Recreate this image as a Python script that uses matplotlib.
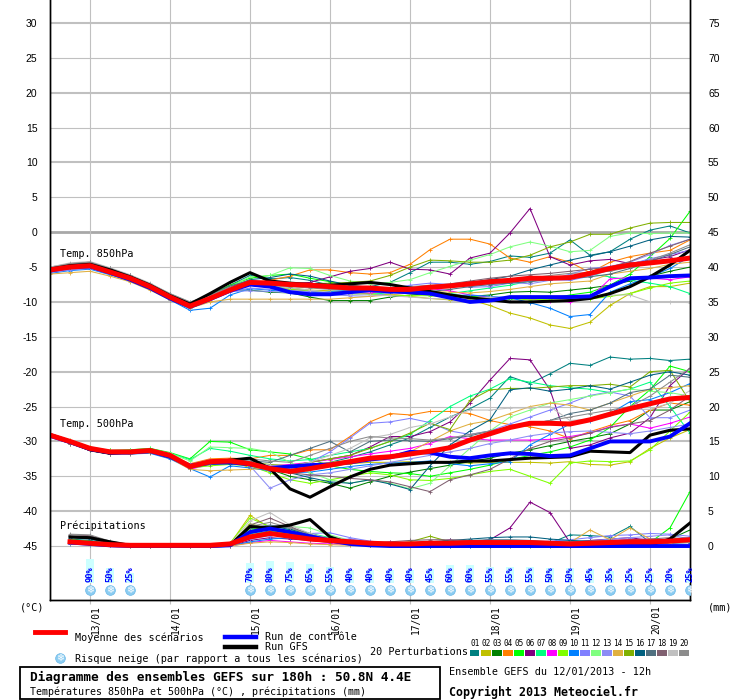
import numpy as np
import matplotlib
matplotlib.use('Agg')
import matplotlib.pyplot as plt
from matplotlib.lines import Line2D
from matplotlib.patches import Rectangle
from matplotlib.transforms import ScaledTranslation

nan = np.nan

# 6-hourly steps from 12/01 12h
steps = np.arange(33)
day_pos = [2, 6, 10, 14, 18, 22, 26, 30]
day_labels = ['13/01', '14/01', '15/01', '16/01', '17/01', '18/01', '19/01', '20/01']

member_colors = ['#008080', '#c0c000', '#008000', '#ff8000', '#00ff00', '#800080', '#00ff80',
                 '#ff00ff', '#80ff00', '#0080ff', '#8080ff', '#80ff80', '#8c8cf5', '#e0b040',
                 '#80b000', '#006080', '#507080', '#806070', '#c0c0c0', '#8c8c8c']

# ---- 850 hPa ----
t850_mean = [-5.4, -5.0, -4.8, -5.7, -6.6, -7.8, -9.3, -10.6, -9.5, -8.3,
             -7.2, -7.3, -7.5, -7.6, -7.8, -8.0, -8.0, -8.2, -8.2, -7.9,
             -7.7, -7.4, -7.1, -6.9, -6.6, -6.6, -6.5, -5.9, -5.2, -4.7,
             -4.4, -4.1, -3.7]
t850_ctrl = [-5.5, -5.0, -4.9, -5.8, -6.8, -8.0, -9.5, -10.7, -9.6, -8.4,
             -7.5, -7.8, -8.6, -8.9, -8.9, -8.6, -8.3, -8.5, -8.6, -8.8,
             -9.4, -10.0, -9.8, -9.3, -9.3, -9.3, -9.3, -9.2, -7.8, -6.6,
             -6.5, -6.3, -6.2]
t850_gfs = [-5.3, -4.8, -4.6, -5.4, -6.4, -7.6, -9.1, -10.3, -8.8, -7.2,
            -5.8, -7.0, -7.3, -7.5, -7.6, -7.4, -7.2, -7.5, -8.0, -8.5,
            -9.0, -9.4, -9.7, -10.0, -10.0, -9.9, -9.8, -9.5, -8.8, -7.8,
            -6.4, -4.7, -2.6]
t850_members = [
    [-5.2, -4.7, -4.5, -5.4, -6.4, -7.6, -9.1, -10.3, -9.2, -7.6, -6.2, -6.7, -6.5, -6.9, -7.6, -7.9, -7.8,
     -7.2, -5.8, -4.3, -4.3, -4.6, -4.2, -3.4, -3.6, -3.0, -1.1, -3.3, -2.8, -1.0, 0.3, 0.9, -0.1],
    [-5.6, -5.2, -5.0, -5.9, -6.8, -8.0, -9.5, -10.6, -9.6, -8.4, -7.6, -7.9, -8.0, -8.3, -8.4, -8.6, -8.8,
     -9.0, -9.2, -9.5, -9.7, -9.7, -10.5, -11.6, -12.3, -13.3, -13.8, -12.9, -10.5, -8.8, -7.8, -7.8, -7.3],
    [-5.5, -5.1, -4.9, -5.8, -6.7, -7.9, -9.4, -10.5, -9.4, -8.3, -8.3, -8.6, -8.7, -9.3, -9.8, -9.8, -9.8,
     -9.3, -9.0, -8.8, -8.9, -9.2, -9.0, -8.6, -8.5, -8.6, -8.3, -8.0, -7.6, -7.0, -6.3, -5.6, -5.0],
    [-5.5, -5.1, -4.9, -5.8, -6.8, -8.0, -9.6, -10.8, -9.8, -8.2, -7.2, -6.9, -6.3, -5.4, -5.4, -5.8, -6.0,
     -5.8, -4.6, -2.5, -1.0, -1.0, -1.7, -3.7, -4.3, -3.5, -4.3, -5.8, -4.3, -3.5, -3.0, -2.6, -1.1],
    [-5.3, -4.8, -4.6, -5.5, -6.5, -7.7, -9.2, -10.4, -9.0, -7.6, -6.6, -6.2, -6.0, -6.6, -7.1, -7.6, -8.0,
     -8.4, -8.6, -8.8, -9.0, -9.2, -9.3, -9.6, -9.4, -9.5, -9.0, -8.6, -7.6, -6.0, -3.5, -0.9, 3.0],
    [-5.4, -5.0, -4.8, -5.7, -6.7, -7.9, -9.4, -10.5, -9.4, -8.1, -7.6, -7.6, -7.4, -7.2, -6.4, -5.6, -5.2,
     -4.3, -5.3, -5.4, -6.0, -3.7, -3.0, -0.1, 3.4, -3.5, -4.7, -4.1, -3.9, -4.5, -4.0, -3.5, -2.5],
    [-5.4, -4.9, -4.7, -5.6, -6.5, -7.7, -9.2, -10.4, -9.3, -8.1, -7.4, -7.7, -8.0, -8.4, -8.6, -8.8, -8.9,
     -8.7, -8.5, -8.6, -8.8, -8.4, -8.0, -7.6, -7.0, -6.5, -6.3, -6.0, -6.4, -6.9, -7.3, -7.8, -8.8],
    [-5.5, -5.1, -4.9, -5.8, -6.7, -7.9, -9.4, -10.6, -9.5, -8.2, -7.5, -7.9, -8.2, -8.4, -8.6, -8.8, -8.7,
     -8.4, -8.1, -8.1, -8.4, -9.0, -9.3, -9.5, -9.6, -9.8, -10.0, -9.4, -6.7, -6.5, -6.6, -6.8, -6.4],
    [-5.6, -5.2, -5.0, -5.9, -6.8, -8.0, -9.5, -10.7, -9.6, -8.4, -7.6, -7.9, -8.2, -8.4, -8.6, -8.8, -8.9,
     -9.0, -9.1, -9.1, -9.3, -9.5, -9.5, -9.5, -9.7, -9.6, -9.5, -9.6, -9.2, -8.8, -8.0, -7.3, -7.0],
    [-5.9, -5.5, -5.3, -6.1, -7.0, -8.2, -9.7, -11.2, -10.9, -9.0, -8.1, -8.3, -8.6, -8.7, -8.5, -8.3, -8.3,
     -8.5, -8.6, -8.9, -9.1, -9.0, -9.2, -9.4, -10.1, -10.9, -12.1, -11.8, -8.6, -7.4, -6.4, -5.2, -3.5],
    [-5.8, -5.4, -5.2, -6.0, -6.9, -8.1, -9.6, -10.8, -9.7, -8.6, -8.0, -8.2, -8.4, -8.5, -8.7, -8.8, -8.5,
     -8.1, -7.6, -7.3, -7.5, -7.9, -7.8, -7.3, -7.0, -6.8, -6.9, -6.3, -5.4, -4.6, -3.8, -3.2, -2.6],
    [-5.3, -4.8, -4.6, -5.5, -6.4, -7.6, -9.0, -10.2, -9.1, -7.8, -6.4, -6.2, -5.1, -5.2, -6.2, -7.0, -7.4,
     -7.2, -6.8, -5.8, -4.9, -4.0, -3.2, -2.1, -1.4, -2.0, -2.8, -2.6, -0.6, -0.1, -0.2, -0.1, -0.1],
    [-5.7, -5.3, -5.1, -5.9, -6.8, -8.0, -9.5, -10.7, -9.6, -8.5, -8.4, -8.5, -8.7, -8.9, -9.0, -9.1, -9.2,
     -8.7, -8.3, -7.9, -7.6, -7.7, -7.5, -7.2, -7.4, -6.9, -6.0, -5.2, -4.9, -4.3, -3.2, -1.9, -1.0],
    [-6.0, -5.8, -5.6, -6.3, -7.1, -8.3, -9.7, -10.9, -10.0, -9.6, -9.6, -9.6, -9.6, -9.6, -9.6, -9.4, -9.2,
     -9.0, -8.7, -8.5, -8.6, -8.7, -8.5, -8.2, -7.8, -7.4, -7.2, -7.0, -6.0, -5.6, -5.2, -4.6, -4.3],
    [-5.5, -5.0, -4.8, -5.7, -6.6, -7.8, -9.3, -10.5, -9.4, -8.2, -7.2, -7.1, -7.3, -7.4, -7.3, -7.2, -7.0,
     -6.2, -5.0, -4.0, -4.1, -4.3, -4.3, -4.0, -3.3, -2.1, -1.4, -0.3, -0.3, 0.6, 1.3, 1.4, 1.4],
    [-5.4, -5.0, -4.8, -5.7, -6.6, -7.8, -9.3, -10.5, -9.3, -7.9, -6.8, -6.5, -6.0, -6.3, -7.0, -7.6, -7.9,
     -8.0, -8.2, -8.0, -7.6, -7.2, -6.8, -6.3, -5.4, -4.7, -4.0, -3.4, -2.8, -2.0, -1.1, -0.6, -0.7],
    [-5.2, -4.6, -4.3, -5.2, -6.2, -7.4, -8.9, -10.1, -9.0, -7.7, -6.9, -7.2, -7.5, -7.8, -8.0, -8.3, -8.5,
     -8.6, -8.6, -8.5, -8.2, -7.8, -7.5, -7.3, -7.1, -6.8, -6.6, -6.4, -6.0, -5.2, -4.2, -3.2, -2.1],
    [-5.0, -4.5, -4.3, -5.2, -6.2, -7.4, -8.9, -10.1, -9.1, -7.9, -7.1, -7.4, -7.7, -7.9, -8.1, -8.3, -8.5,
     -8.3, -8.0, -7.7, -7.4, -7.0, -6.6, -6.3, -6.1, -5.9, -5.6, -5.3, -5.0, -4.2, -3.0, -2.0, -1.0],
    [-5.0, -4.4, -4.2, -5.1, -6.1, -7.3, -8.8, -10.0, -9.2, -8.0, -7.4, -7.7, -8.0, -8.3, -8.6, -8.8, -9.0,
     -9.1, -9.3, -9.5, -9.6, -9.5, -9.3, -9.4, -9.2, -9.3, -9.6, -9.3, -9.0, -9.0, -10.0, -10.0, -10.1],
    [-5.1, -4.5, -4.3, -5.2, -6.2, -7.4, -8.8, -10.0, -9.0, -7.9, -7.3, -7.6, -7.8, -8.0, -8.2, -8.3, -8.3,
     -8.0, -7.8, -7.6, -7.5, -7.4, -7.2, -7.0, -6.6, -6.2, -5.9, -5.8, -5.6, -5.0, -4.0, -3.0, -1.8],
]

# ---- 500 hPa ----
t500_mean = [-29.1, -30.0, -31.0, -31.5, -31.5, -31.3, -32.0, -33.6, -32.9, -32.8,
             -33.2, -33.9, -34.3, -33.9, -33.4, -32.9, -32.4, -32.2, -31.8, -31.4,
             -30.9, -29.8, -28.9, -28.0, -27.4, -27.4, -27.5, -26.9, -26.1, -25.3,
             -24.6, -23.9, -23.7]
t500_ctrl = [-29.2, -30.1, -31.1, -31.6, -31.6, -31.4, -32.2, -33.5, -33.0, -33.0,
             -33.3, -33.8, -33.6, -33.4, -33.3, -33.0, -32.6, -32.3, -31.5, -31.6,
             -32.2, -32.4, -32.0, -31.7, -31.8, -32.1, -32.0, -31.0, -30.0, -30.0,
             -30.0, -29.3, -27.4]
t500_gfs = [-29.0, -30.0, -31.2, -31.7, -31.5, -31.3, -32.2, -33.5, -33.0, -32.7,
            -32.4, -33.9, -36.8, -38.0, -36.5, -35.1, -34.0, -33.4, -33.2, -33.0,
            -33.0, -32.8, -32.8, -32.6, -32.4, -32.3, -32.2, -31.4, -31.5, -31.6,
            -29.1, -28.4, -28.2]
t500_members = [
    [-29.0, -30.0, -31.1, -31.6, -31.6, -31.4, -32.1, -33.4, -32.7, -32.6, -33.0, -33.5, -34.0, -33.8, -33.0, -32.3, -31.5,
     -30.5, -29.5, -28.0, -26.5, -25.3, -23.8, -20.7, -21.7, -20.3, -18.8, -19.1, -17.9, -18.2, -18.1, -18.4, -18.2],
    [-28.9, -29.8, -30.8, -31.3, -31.4, -31.2, -31.8, -33.3, -32.6, -32.7, -33.8, -34.2, -34.5, -34.0, -33.5, -33.2, -33.0,
     -33.0, -32.9, -33.0, -33.0, -33.1, -33.0, -33.0, -33.0, -33.1, -32.9, -33.3, -33.4, -32.9, -31.0, -29.5, -28.3],
    [-29.2, -30.2, -31.3, -31.8, -31.7, -31.5, -32.2, -33.7, -33.2, -33.0, -33.0, -34.0, -35.0, -35.5, -36.0, -36.7, -35.8,
     -35.0, -34.4, -33.9, -33.4, -32.9, -32.4, -31.7, -31.2, -30.6, -30.0, -29.5, -28.9, -27.5, -25.5, -25.5, -24.3],
    [-29.1, -30.0, -31.0, -31.5, -31.4, -31.2, -31.9, -33.2, -32.5, -32.4, -32.5, -32.0, -32.0, -31.2, -31.2, -29.3, -27.2,
     -26.0, -26.2, -25.7, -25.7, -26.0, -27.0, -27.6, -27.9, -28.5, -29.6, -28.6, -27.7, -27.0, -25.5, -24.5, -24.8],
    [-29.0, -29.9, -30.9, -31.3, -31.2, -31.0, -31.6, -32.5, -30.0, -30.1, -31.2, -31.5, -31.8, -32.5, -33.5, -34.0, -34.3,
     -34.5, -34.6, -35.0, -34.5, -34.0, -33.4, -32.6, -32.0, -31.5, -30.8, -29.8, -28.0, -25.0, -22.6, -19.2, -20.0],
    [-29.1, -30.0, -31.0, -31.5, -31.5, -31.3, -32.0, -33.4, -32.8, -32.9, -33.5, -33.8, -33.5, -33.0, -32.5, -32.0, -30.8,
     -29.3, -29.3, -28.6, -27.2, -24.5, -21.2, -18.1, -18.3, -22.6, -31.0, -30.5, -29.5, -28.8, -26.6, -22.0, -19.5],
    [-29.0, -29.9, -30.9, -31.4, -31.3, -31.1, -31.7, -32.6, -31.0, -31.4, -32.0, -32.5, -32.8, -32.6, -32.0, -31.5, -31.0,
     -30.0, -29.0, -27.0, -25.0, -23.5, -22.5, -21.0, -21.5, -22.0, -22.3, -22.5, -23.0, -22.5, -21.5, -25.0, -28.8],
    [-29.2, -30.1, -31.1, -31.6, -31.6, -31.4, -32.2, -34.0, -33.3, -33.2, -33.0, -33.5, -33.3, -33.0, -32.6, -32.2, -31.8,
     -31.4, -31.0, -30.3, -29.3, -29.6, -29.8, -29.8, -29.8, -29.7, -29.3, -28.8, -27.9, -27.5, -28.1, -27.4, -26.5],
    [-29.2, -30.2, -31.2, -31.7, -31.6, -31.4, -32.1, -33.8, -33.5, -33.3, -33.5, -34.5, -35.5, -36.0, -35.5, -35.0, -34.5,
     -34.8, -35.5, -35.6, -35.3, -34.8, -34.3, -34.0, -35.0, -36.0, -33.1, -32.8, -32.9, -32.8, -31.2, -28.5, -25.8],
    [-29.3, -30.3, -31.3, -31.8, -31.8, -31.7, -32.5, -33.9, -35.1, -33.5, -33.8, -34.2, -34.5, -34.4, -34.0, -33.6, -33.3,
     -33.1, -33.0, -32.8, -33.2, -33.5, -33.2, -32.9, -30.5, -29.0, -27.5, -27.0, -26.0, -24.3, -24.0, -23.0, -21.7],
    [-29.2, -30.1, -31.1, -31.6, -31.6, -31.5, -32.2, -33.7, -33.1, -33.0, -33.5, -34.0, -33.8, -33.0, -31.5, -29.5, -27.4,
     -27.2, -26.7, -27.3, -28.5, -29.0, -28.5, -27.5, -26.5, -25.5, -24.5, -23.4, -22.9, -23.5, -26.6, -26.6, -25.5],
    [-29.0, -29.9, -30.9, -31.4, -31.3, -31.1, -31.7, -32.8, -30.8, -30.9, -31.0, -31.5, -33.0, -34.5, -35.5, -36.0, -35.5,
     -36.0, -36.8, -36.0, -33.5, -31.0, -28.5, -26.5, -25.5, -24.5, -24.0, -23.5, -23.0, -22.5, -22.8, -23.0, -23.5],
    [-29.2, -30.1, -31.1, -31.6, -31.6, -31.4, -32.1, -33.7, -33.2, -33.0, -33.5, -36.7, -35.5, -34.8, -34.5, -34.0, -33.5,
     -33.0, -32.5, -32.0, -31.5, -31.0, -30.3, -29.8, -29.2, -28.8, -28.6, -28.5, -28.7, -28.9, -28.5, -28.0, -27.5],
    [-29.3, -30.3, -31.3, -31.8, -31.8, -31.6, -32.4, -34.0, -34.2, -34.1, -34.0, -33.8, -33.5, -33.3, -33.0, -32.7, -32.4,
     -32.0, -31.5, -30.0, -28.5, -27.5, -27.0, -26.0, -25.0, -24.5, -24.8, -25.5, -24.5, -23.5, -22.5, -22.3, -22.0],
    [-29.1, -30.0, -31.0, -31.5, -31.5, -31.3, -32.0, -33.5, -32.8, -32.7, -33.0, -33.3, -33.5, -33.0, -32.5, -32.0, -31.0,
     -30.0, -28.8, -27.4, -28.3, -24.1, -22.6, -22.4, -22.4, -22.2, -22.0, -22.0, -21.8, -22.2, -20.0, -19.8, -24.3],
    [-29.2, -30.2, -31.2, -31.7, -31.7, -31.5, -32.3, -33.8, -33.3, -33.2, -33.2, -33.8, -34.5, -35.2, -35.8, -36.0, -35.5,
     -36.1, -36.9, -33.5, -30.5, -28.5, -26.9, -22.6, -22.3, -22.8, -22.5, -22.0, -22.5, -21.5, -20.5, -20.0, -20.5],
    [-29.1, -30.1, -31.1, -31.6, -31.5, -31.3, -32.0, -33.5, -32.9, -32.7, -32.8, -33.0, -32.0, -31.0, -30.0, -31.5, -30.0,
     -29.8, -29.9, -30.0, -29.6, -29.2, -28.5, -28.0, -27.5, -27.0, -26.0, -25.5, -24.5, -23.0, -22.5, -20.5, -20.8],
    [-29.3, -30.3, -31.3, -31.8, -31.7, -31.5, -32.2, -33.8, -33.2, -33.1, -33.4, -34.0, -34.5, -34.8, -35.0, -35.3, -35.5,
     -35.8, -36.5, -37.2, -35.5, -34.8, -34.0, -32.5, -31.0, -30.0, -29.5, -28.8, -28.0, -27.5, -27.0, -25.5, -23.5],
    [-29.0, -29.9, -30.9, -31.4, -31.4, -31.2, -31.9, -33.3, -32.6, -32.6, -33.0, -33.4, -33.6, -33.0, -32.0, -31.0, -29.5,
     -29.0, -28.0, -27.5, -26.5, -25.5, -25.5, -25.2, -25.2, -25.0, -27.0, -26.8, -25.8, -25.4, -25.4, -24.5, -22.7],
    [-29.2, -30.2, -31.2, -31.7, -31.6, -31.4, -32.1, -33.6, -32.9, -32.7, -32.5, -32.8, -33.0, -32.0, -31.0, -30.0, -29.3,
     -29.5, -29.6, -29.8, -29.5, -29.0, -28.5, -28.0, -27.5, -27.0, -26.5, -26.0, -25.5, -25.0, -23.5, -21.5, -19.5],
]

# ---- precipitation (mm) ----
rr_mean = [nan, 0.6, 0.4, 0.2, 0.1, 0.1, 0.1, 0.1, 0.1, 0.3,
           1.3, 1.8, 1.4, 1.0, 0.8, 0.6, 0.4, 0.3, 0.3, 0.4,
           0.4, 0.5, 0.5, 0.5, 0.5, 0.4, 0.3, 0.4, 0.5, 0.6,
           0.6, 0.7, 0.9]
rr_ctrl = [nan, 0.5, 0.3, 0.1, 0, 0, 0, 0, 0, 0.1,
           2.0, 2.5, 2.0, 1.4, 0.8, 0.3, 0.1, 0, 0, 0,
           0, 0, 0, 0, 0, 0, 0, 0, 0, 0,
           0, 0, 0]
rr_gfs = [nan, 1.3, 1.2, 0.6, 0.1, 0, 0, 0, 0, 0.1,
          2.8, 2.6, 3.0, 3.8, 1.3, 0.4, 0.2, 0.1, 0, 0,
          0, 0, 0, 0, 0, 0, 0, 0, 0, 0,
          0.1, 1.0, 3.3]
rr_members = [
    [nan, 1.0, 0.8, 0.3, 0.1, 0, 0, 0, 0, 0.1, 1.5, 2.2, 1.8, 1.0, 0.6, 0.3, 0.2,
     0.1, 0.2, 0.4, 0.6, 0.7, 0.6, 0.5, 0.4, 0.4, 1.6, 1.5, 1.3, 2.8, 0.5, 0.6, 0.8],
    [nan, 0.8, 0.6, 0.2, 0.1, 0, 0, 0, 0, 0.3, 4.4, 2.6, 1.8, 1.2, 0.8, 0.4, 0.2,
     0.1, 0, 0, 0.1, 0.2, 0.3, 0.2, 0.1, 0.1, 0.1, 0.2, 0.3, 0.4, 0.3, 0.5, 0.6],
    [nan, 0.6, 0.5, 0.2, 0, 0, 0, 0, 0, 0.1, 2.0, 2.4, 2.0, 1.5, 1.0, 0.5, 0.3,
     0.2, 0.1, 0, 0, 0, 0, 0, 0, 0, 0, 0.1, 0.2, 0.3, 0.5, 1.0, 2.3],
    [nan, 0.7, 0.5, 0.2, 0, 0, 0, 0, 0, 0.1, 1.2, 1.8, 1.5, 1.0, 0.8, 0.5, 0.3,
     0.2, 0.2, 0.3, 0.4, 0.5, 0.6, 0.6, 0.5, 0.4, 0.3, 0.4, 0.5, 0.4, 0.3, 0.4, 0.5],
    [nan, 0.9, 0.7, 0.3, 0.1, 0, 0, 0, 0, 0.2, 2.5, 2.6, 2.2, 1.6, 1.0, 0.6, 0.3,
     0.2, 0.1, 0.1, 0.1, 0.2, 0.2, 0.2, 0.1, 0.1, 0.1, 0.2, 0.3, 0.5, 0.5, 2.6, 7.8],
    [nan, 0.5, 0.4, 0.2, 0, 0, 0, 0, 0, 0, 0.8, 1.2, 1.0, 0.8, 0.5, 0.3, 0.2,
     0.2, 0.3, 0.4, 0.5, 0.6, 0.9, 2.6, 6.3, 4.8, 0.5, 0.8, 1.0, 1.2, 0.8, 0.6, 0.5],
    [nan, 0.8, 0.6, 0.2, 0, 0, 0, 0, 0, 0.2, 1.8, 2.0, 2.4, 1.8, 1.2, 0.7, 0.4,
     0.2, 0.1, 0.1, 0.1, 0.2, 0.3, 0.3, 0.3, 0.2, 0.2, 0.3, 0.4, 0.5, 0.6, 0.7, 0.8],
    [nan, 0.4, 0.3, 0.1, 0, 0, 0, 0, 0, 0, 0.5, 0.8, 0.6, 0.4, 0.3, 0.2, 0.2,
     0.6, 0.4, 0.3, 0.9, 0.2, 0.2, 0.2, 0.3, 0.4, 0.3, 0.5, 0.8, 0.9, 1.0, 0.9, 0.8],
    [nan, 0.6, 0.5, 0.2, 0, 0, 0, 0, 0, 0.4, 4.0, 2.8, 1.8, 1.2, 0.7, 0.4, 0.2,
     0.1, 0.1, 0.1, 0.2, 0.3, 0.4, 0.3, 0.2, 0.2, 0.2, 0.2, 0.3, 0.4, 0.4, 0.5, 0.6],
    [nan, 0.3, 0.2, 0.1, 0, 0, 0, 0, 0, 0, 0.6, 1.0, 1.2, 0.9, 0.6, 0.3, 0.2,
     0.1, 0.1, 0, 0, 0, 0.1, 0.1, 0.1, 0.1, 0.1, 0.2, 0.3, 0.3, 0.4, 0.4, 0.5],
    [nan, 0.5, 0.4, 0.2, 0, 0, 0, 0, 0, 0.1, 1.0, 1.5, 1.6, 1.8, 1.9, 1.2, 0.7,
     0.4, 0.3, 0.2, 0.3, 0.4, 0.5, 0.5, 0.6, 0.7, 0.9, 1.2, 1.5, 1.6, 1.8, 1.7, 1.4],
    [nan, 0.7, 0.6, 0.3, 0.1, 0, 0, 0, 0, 0.2, 2.4, 2.6, 2.8, 2.6, 1.6, 0.8, 0.4,
     0.2, 0.1, 0.1, 0.1, 0.1, 0.2, 0.2, 0.2, 0.2, 0.2, 0.3, 0.4, 0.4, 0.5, 0.6, 0.7],
    [nan, 0.6, 0.5, 0.2, 0, 0, 0, 0, 0, 0.1, 1.4, 1.8, 1.4, 1.0, 0.9, 1.0, 0.6,
     0.3, 0.2, 0.1, 0.1, 0.2, 0.3, 0.3, 0.3, 0.4, 0.5, 0.7, 1.0, 1.2, 1.4, 1.6, 1.0],
    [nan, 0.4, 0.3, 0.1, 0, 0, 0, 0, 0, 0, 0.4, 0.6, 0.5, 0.3, 0.2, 0.1, 0.1,
     0.1, 0.1, 0.1, 0.2, 0.3, 0.3, 0.3, 0.3, 0.4, 0.5, 2.3, 0.9, 2.6, 1.0, 0.8, 0.6],
    [nan, 0.8, 0.6, 0.3, 0.1, 0, 0, 0, 0, 0.2, 3.2, 2.4, 1.6, 1.0, 0.6, 0.3, 0.2,
     0.3, 0.6, 1.4, 0.6, 0.4, 0.3, 0.3, 0.2, 0.2, 0.2, 0.3, 0.3, 0.4, 0.4, 0.5, 0.6],
    [nan, 1.2, 1.0, 0.4, 0.1, 0, 0, 0, 0, 0.2, 2.2, 2.8, 2.4, 1.6, 1.0, 0.6, 0.4,
     0.3, 0.4, 0.6, 0.8, 1.0, 1.2, 1.3, 1.3, 1.0, 0.8, 0.7, 0.6, 0.7, 0.8, 0.8, 0.9],
    [nan, 1.4, 1.2, 0.5, 0.1, 0, 0, 0, 0, 0.2, 2.6, 3.0, 2.6, 1.8, 1.0, 0.7, 0.5,
     0.4, 0.5, 0.6, 0.7, 0.8, 0.9, 0.9, 0.8, 0.6, 0.5, 0.5, 0.6, 0.7, 0.8, 1.0, 1.2],
    [nan, 1.6, 1.5, 0.6, 0.2, 0, 0, 0, 0, 0.2, 3.0, 4.0, 2.8, 1.6, 1.0, 0.6, 0.5,
     0.6, 0.8, 0.9, 0.9, 0.8, 0.7, 0.7, 0.6, 0.6, 0.6, 0.7, 0.8, 0.9, 1.0, 1.2, 1.0],
    [nan, 1.5, 1.3, 0.5, 0.1, 0, 0, 0, 0, 0.3, 3.6, 4.8, 3.0, 1.8, 1.0, 0.5, 0.3,
     0.2, 0.2, 0.3, 0.3, 0.4, 0.4, 0.4, 0.4, 0.3, 0.3, 0.3, 0.4, 0.4, 0.5, 0.5, 0.6],
    [nan, 1.7, 1.6, 0.7, 0.2, 0, 0, 0, 0, 0.2, 2.8, 3.4, 2.6, 1.6, 1.0, 0.6, 0.4,
     0.3, 0.3, 0.4, 0.5, 0.5, 0.5, 0.5, 0.5, 0.4, 0.4, 0.5, 0.6, 0.7, 0.8, 0.9, 1.0],
]

# snow risk (% of scenarios)
snow_idx = [2, 3, 4] + list(range(10, 33))
snow_pct = [90, 50, 25, 70, 80, 75, 65, 55, 40, 40, 40, 40, 45, 60, 60, 55, 55, 55,
            50, 50, 45, 35, 25, 25, 20, 25]

W, H = 740, 700
MONO = 'DejaVu Sans Mono'
FLAKE_BG = '#8ccdf2'


def fx(px):
    return px / W


def fy(py):
    return 1 - py / H


fig = plt.figure(figsize=(W / 100, H / 100), dpi=100)
ax = fig.add_axes([fx(50), fy(600), 640 / W, 600 / H])
ymin, ymax = -52.74, 33.3
ax.set_xlim(0, 32)
ax.set_ylim(ymin, ymax)
ax2 = ax.twinx()
ax2.set_ylim(ymin + 45, ymax + 45)

# grid
for v in range(-45, 35, 5):
    if v == 0:
        ax.axhline(v, color='#a8a8a8', lw=2.0, zorder=0)
    elif v % 10 == 0:
        ax.axhline(v, color='#c0c0c0', lw=1.5, zorder=0)
    else:
        ax.axhline(v, color='#c0c0c0', lw=0.8, zorder=0)
for d in day_pos:
    ax.axvline(d, color='#c0c0c0', lw=0.8, zorder=0)

ax.spines['top'].set_visible(False)
ax2.spines['top'].set_visible(False)
for a in (ax, ax2):
    for sp in ['left', 'right', 'bottom']:
        a.spines[sp].set_linewidth(1.0)
        a.spines[sp].set_color('black')

ax.set_yticks(range(-45, 35, 5))
ax.set_yticklabels([str(v) for v in range(-45, 35, 5)], fontsize=7.5, family='Liberation Sans')
ax.tick_params(axis='y', length=0, pad=9)
ax2.set_yticks(range(0, 80, 5))
ax2.set_yticklabels([str(v) for v in range(0, 80, 5)], fontsize=7.5, family='Liberation Sans')
ax2.tick_params(axis='y', length=0, pad=13)

ax.set_xticks(day_pos)
ax.set_xticklabels(day_labels, rotation=90, fontsize=6.9, family=MONO)
ax.tick_params(axis='x', length=3, color='#c0c0c0', width=0.8, pad=0.5)
for lab in ax.get_xticklabels():
    lab.set_transform(lab.get_transform() + ScaledTranslation(6 / 100, 0, fig.dpi_scale_trans))

# perturbations
for k in range(20):
    c = member_colors[k]
    kw = dict(color=c, lw=0.75, marker='+', ms=3, mew=0.6, zorder=2)
    ax.plot(steps, t850_members[k], **kw)
    ax.plot(steps, t500_members[k], **kw)
    ax2.plot(steps, rr_members[k], **kw)

ax.plot(steps, t850_gfs, color='black', lw=2.2, zorder=3)
ax.plot(steps, t500_gfs, color='black', lw=2.2, zorder=3)
ax2.plot(steps, rr_gfs, color='black', lw=2.2, zorder=3)
ax.plot(steps, t850_ctrl, color='#0000ff', lw=2.8, zorder=4)
ax.plot(steps, t500_ctrl, color='#0000ff', lw=2.8, zorder=4)
ax2.plot(steps, rr_ctrl, color='#0000ff', lw=2.8, zorder=4)
ax.plot(steps, t850_mean, color='#ff0000', lw=3.6, zorder=5)
ax.plot(steps, t500_mean, color='#ff0000', lw=3.6, zorder=5)
ax2.plot(steps, rr_mean, color='#ff0000', lw=3.6, zorder=5)

# snow risk markers
for i, p in zip(snow_idx, snow_pct):
    ax2.add_patch(Rectangle((i - 0.22, -5.3), 0.44, 0.6 + 0.032 * p, color='#ccffff', zorder=6, lw=0))
    ax2.text(i, -5.15, '%d%%' % p, rotation=90, ha='center', va='bottom', fontsize=6.3,
             family=MONO, fontweight='bold', color='#0000ff', zorder=7)
    ax2.plot([i], [-6.3], marker='o', ms=7, color=FLAKE_BG, mec='#6ab8e8', mew=0.5, zorder=7)
    ax2.text(i, -6.3, '\u2744', ha='center', va='center', fontsize=7, color='white',
             family='DejaVu Sans', zorder=8)

# in-plot labels
fig.text(fx(60), fy(254), 'Temp. 850hPa', fontsize=7.3, family=MONO, va='center')
fig.text(fx(60), fy(424), 'Temp. 500hPa', fontsize=7.3, family=MONO, va='center')
fig.text(fx(60), fy(526), 'Précipitations', fontsize=7.3, family=MONO, va='center')
fig.text(fx(20), fy(607), '(°C)', fontsize=7.3, family=MONO, va='center')
fig.text(fx(708), fy(607), '(mm)', fontsize=7.3, family=MONO, va='center')

# legend
fig.add_artist(Line2D([fx(35), fx(65)], [fy(631.5)] * 2, color='#ff0000', lw=3.5))
fig.text(fx(75), fy(637.5), 'Moyenne des scénarios', fontsize=7.3, family=MONO, va='center')
fig.add_artist(Line2D([fx(225), fx(256)], [fy(636.5)] * 2, color='#0000ff', lw=3.2))
fig.text(fx(265), fy(637.5), 'Run de contrôle', fontsize=7.3, family=MONO, va='center')
fig.add_artist(Line2D([fx(225), fx(256)], [fy(646.5)] * 2, color='black', lw=3.2))
fig.text(fx(265), fy(647.5), 'Run GFS', fontsize=7.3, family=MONO, va='center')
fig.add_artist(Line2D([fx(60)], [fy(658)], marker='o', ms=7, color=FLAKE_BG, mec='#6ab8e8', mew=0.5))
fig.text(fx(60), fy(658), '\u2744', fontsize=7, color='white', ha='center', va='center',
         family='DejaVu Sans')
fig.text(fx(75), fy(659), 'Risque neige (par rapport a tous les scénarios)', fontsize=7.3,
         family=MONO, va='center')

fig.text(fx(370), fy(652), '20 Perturbations', fontsize=7.3, family=MONO, va='center')
for k in range(20):
    x0 = 470 + 11 * k
    fig.add_artist(Rectangle((fx(x0), fy(656)), 9.5 / W, 6 / H, transform=fig.transFigure,
                             color=member_colors[k], lw=0))
    fig.text(fx(x0 + 5), fy(644), '%02d' % (k + 1), fontsize=5.6, family=MONO,
             ha='center', va='center')

fig.add_artist(Rectangle((fx(20), fy(699)), 420 / W, 32 / H, transform=fig.transFigure,
                         fill=False, edgecolor='black', lw=1.3))
fig.text(fx(30), fy(677), 'Diagramme des ensembles GEFS sur 180h : 50.8N 4.4E', fontsize=9.2,
         family=MONO, fontweight='bold', va='center')
fig.text(fx(30), fy(692), 'Températures 850hPa et 500hPa (°C) , précipitations (mm)', fontsize=7.2,
         family=MONO, va='center')
fig.text(fx(449), fy(672), 'Ensemble GEFS du 12/01/2013 - 12h', fontsize=7.3, family=MONO, va='center')
fig.text(fx(449), fy(692), 'Copyright 2013 Meteociel.fr', fontsize=8.4, family=MONO,
         fontweight='bold', va='center')

fig.savefig('out.png', dpi=100)
